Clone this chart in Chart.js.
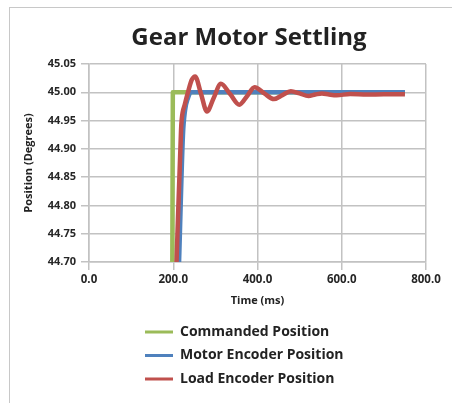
<!DOCTYPE html>
<html><head><meta charset="utf-8">
<script src="https://cdn.jsdelivr.net/npm/chart.js@4.4.1/dist/chart.umd.min.js"></script>
<style>
html,body{margin:0;padding:0;background:#fff;}
#wrap{position:relative;width:452px;height:403px;overflow:hidden;}
#frame{position:absolute;left:9px;top:7px;width:520px;height:520px;border-left:1px solid #c8c8c8;border-top:1px solid #c8c8c8;}
canvas{position:absolute;left:0;top:0;}
</style></head><body>
<div id="wrap"><div id="frame"></div><canvas id="c" width="452" height="403"></canvas></div>
<script>
const chartTitle = 'Gear Motor Settling';
const xAxisTitle = 'Time (ms)';
const yAxisTitle = 'Position (Degrees)';
const seriesNames = ['Commanded Position', 'Motor Encoder Position', 'Load Encoder Position'];
const seriesColors = ['#9BBB59', '#4F81BD', '#C0504D'];
const xTickValues = [0, 200, 400, 600, 800];
const yTickValues = [44.70, 44.75, 44.80, 44.85, 44.90, 44.95, 45.00, 45.05];

const commandedTime = [0, 195, 199, 750];
const commandedPos  = [44.0, 44.0, 45.0, 45.0];

const motorTime = [0, 195, 201.5, 213.8, 223, 228, 235, 242, 750];
const motorPos  = [44.4, 44.4, 44.4, 44.70, 44.924, 44.968, 44.99, 45.0, 45.0];

const loadTime = [0, 175.6, 191.7, 207.8, 218.5, 220.2, 228, 236, 244, 252, 266, 280, 296, 313, 335, 357, 375, 393, 416, 439, 459, 479, 500, 521, 537, 553, 570, 588, 620, 660, 700, 750];
const loadPos  = [44.0, 44.0, 44.35, 44.70, 44.933, 44.953, 44.98, 45.003, 45.022, 45.028, 44.997, 44.966, 44.99, 45.015, 44.997, 44.978, 44.993, 45.009, 44.998, 44.988, 44.995, 45.002, 44.998, 44.9935, 44.996, 44.998, 44.996, 44.9947, 44.997, 44.996, 44.9965, 44.9965];

const toPoints = (ts, vs) => ts.map((t, i) => ({x: t, y: vs[i]}));

const FONT = "'Open Sans', 'Noto Sans', sans-serif";
Chart.defaults.font.family = FONT;
Chart.defaults.color = '#262626';

const gridColor = '#c2c2c2';

const placement = {
  id: 'placement',
  afterLayout(chart) {
    const t = chart.titleBlock;
    if (t) { t.left = 72; t.right = 426; }
    const l = chart.legend;
    if (l) {
      const pad = l.options.labels.padding;
      const w = l.right - l.left;
      l.left = 145 - pad;
      l.right = l.left + w;
    }
  }
};

const mkDataset = (i, ts, vs, order, mode) => ({
  label: seriesNames[i],
  data: toPoints(ts, vs),
  borderColor: seriesColors[i],
  backgroundColor: seriesColors[i],
  borderWidth: 4.5,
  pointRadius: 0,
  pointHoverRadius: 0,
  fill: false,
  tension: 0,
  cubicInterpolationMode: mode,
  borderJoinStyle: 'round',
  borderCapStyle: 'butt',
  clip: 0,
  order: order
});

new Chart(document.getElementById('c'), {
  type: 'line',
  data: {
    datasets: [
      mkDataset(0, commandedTime, commandedPos, 3, 'default'),
      mkDataset(1, motorTime, motorPos, 2, 'monotone'),
      mkDataset(2, loadTime, loadPos, 1, 'monotone')
    ]
  },
  plugins: [placement],
  options: {
    responsive: false,
    devicePixelRatio: 1,
    animation: false,
    layout: { padding: { left: 10, right: 26, top: 0, bottom: 7 } },
    plugins: {
      tooltip: { enabled: false },
      title: {
        display: true,
        text: chartTitle,
        color: '#222',
        font: { size: 24, weight: 'bold', family: FONT },
        padding: { top: 24, bottom: 11.2 }
      },
      legend: {
        position: 'bottom',
        fullSize: false,
        align: 'start',
        labels: {
          usePointStyle: true,
          pointStyle: 'line',
          pointStyleWidth: 28,
          padding: 9.5,
          color: '#222',
          font: { size: 14, weight: 'bold', family: FONT },
          sort: (a, b) => a.datasetIndex - b.datasetIndex,
          generateLabels: (chart) => {
            const items = Chart.defaults.plugins.legend.labels.generateLabels(chart);
            items.forEach(it => { it.lineWidth = 3; it.lineCap = 'butt'; });
            return items;
          }
        }
      }
    },
    scales: {
      x: {
        type: 'linear',
        min: 0, max: 800,
        afterBuildTicks: (s) => { s.ticks = xTickValues.map(v => ({value: v})); },
        afterFit: (s) => { s.height = 53.5; },
        ticks: {
          callback: (v) => Number(v).toFixed(1),
          font: { size: 11.5, weight: 'bold', family: FONT },
          color: '#262626',
          padding: 3,
          maxRotation: 0
        },
        grid: { color: gridColor, lineWidth: 1.5, tickLength: 8 },
        border: { color: gridColor, width: 1.5 },
        title: {
          display: true,
          text: xAxisTitle,
          color: '#222',
          font: { size: 11, weight: 'bold', family: FONT },
          padding: { top: 9, bottom: 7.9 }
        }
      },
      y: {
        type: 'linear',
        min: 44.70, max: 45.05,
        afterBuildTicks: (s) => { s.ticks = yTickValues.map(v => ({value: v})); },
        afterFit: (s) => { s.width = 79; },
        ticks: {
          callback: (v) => Number(v).toFixed(2),
          font: { size: 11, weight: 'bold', family: FONT },
          color: '#262626',
          padding: 5
        },
        grid: { color: gridColor, lineWidth: 1.5, tickLength: 8 },
        border: { color: gridColor, width: 1.5 },
        title: {
          display: true,
          text: yAxisTitle,
          color: '#222',
          font: { size: 11, weight: 'bold', family: FONT },
          padding: { top: 12.4, bottom: 0 }
        }
      }
    }
  }
});
</script>
</body></html>
